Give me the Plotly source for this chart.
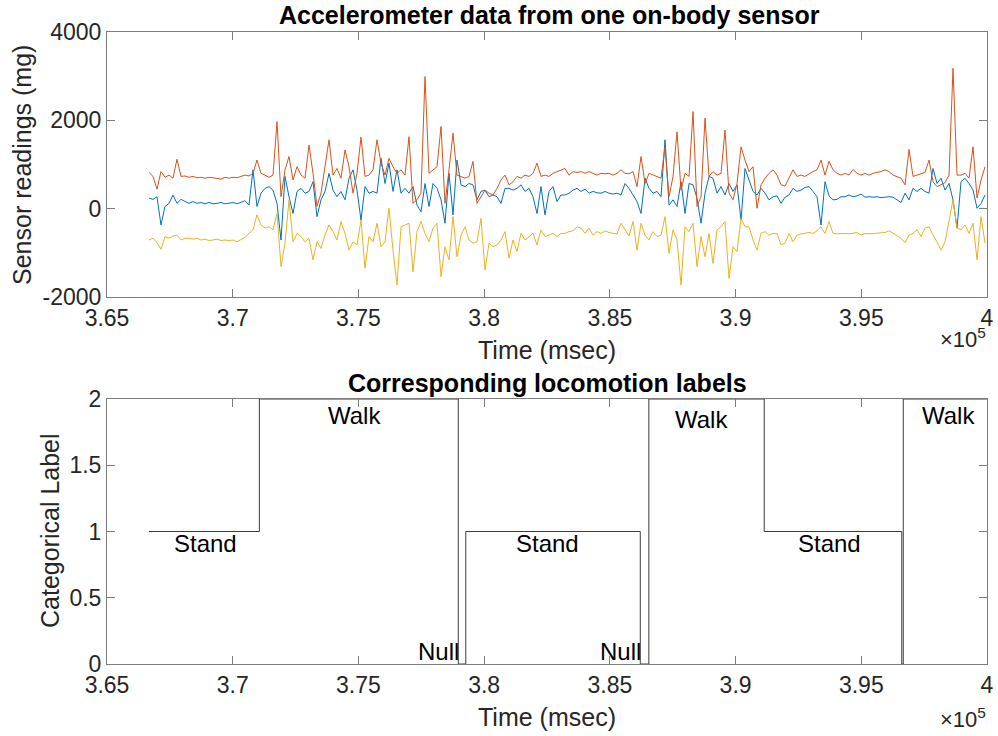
import plotly.graph_objects as go

# ---------------- data ----------------
t_start_ms = 366670      # first sample (ms)
sample_ms = 159.1        # sampling period of the readings below (ms)

acc_blue = [240,210,270,-370,50,120,310,120,210,160,120,160,120,140,110,140,110,120,140,110,120,140,110,140,180,80,880,50,350,460,500,420,120,-710,
            730,270,-110,390,460,350,390,610,-180,200,390,800,420,270,390,200,690,880,420,-260,500,350,390,350,1140,570,1030,390,880,350,460,350,500,80,-70,
            570,50,570,460,200,-330,800,-140,1100,540,500,570,540,200,390,420,270,310,270,120,460,460,420,460,540,390,460,270,-110,500,-140,390,500,160,310,
            310,350,420,460,390,440,350,390,360,350,390,350,330,350,310,570,460,310,160,-110,690,460,350,390,270,1560,80,200,50,610,-110,570,540,240,-330,
            350,730,690,350,500,310,570,390,540,-260,910,650,390,310,460,350,200,270,290,120,260,310,460,390,420,480,500,390,270,-370,610,290,200,210,270,
            270,310,270,290,330,260,270,260,270,250,260,270,260,200,140,350,200,460,390,460,390,350,910,570,690,420,570,200,-440,610,690,570,420,10,120,310]

acc_orange = [820,730,440,840,710,760,690,1120,730,740,710,730,700,710,690,710,700,690,670,710,690,710,700,730,760,740,800,1100,800,760,710,760,1970,270,
              880,1180,650,950,760,690,1440,800,50,350,950,1560,760,910,690,1330,950,350,800,1620,730,760,880,1560,1030,760,1140,950,800,880,760,1630,120,200,350,
              2990,800,880,950,1860,120,880,1710,760,730,690,730,1070,120,270,420,350,310,460,650,760,540,610,730,690,760,730,800,1030,730,760,730,800,840,880,
              910,760,840,820,840,800,840,800,760,800,790,800,760,800,880,800,790,840,500,1180,570,800,760,730,690,1400,270,730,1740,420,800,730,2200,50,270,
              2050,730,840,760,800,1780,350,200,570,1400,1100,840,950,10,540,690,800,880,760,540,510,690,880,730,760,730,790,840,880,1100,760,1070,880,800,760,
              800,760,890,800,760,800,760,800,820,840,880,840,760,730,690,540,1340,730,760,800,820,1100,610,500,540,590,760,3180,760,760,800,690,1400,240,650,950]

acc_yellow = [-710,-670,-770,-920,-630,-670,-620,-600,-710,-670,-670,-690,-670,-710,-690,-720,-710,-690,-720,-710,-720,-710,-750,-690,-650,-560,-480,-140,-370,-440,-410,-480,-110,-1310,
              -780,200,-750,-560,-630,-750,-670,-1160,-750,-900,-600,-370,-520,-710,-290,-560,-940,-750,-820,-260,-1350,-630,-750,-330,-860,-750,10,-940,-1730,-410,-370,-330,-1430,-520,-290,
              -560,-750,-440,-330,-1540,-860,-1160,-180,-1090,-600,-410,-710,-780,-750,-220,-1390,-780,-860,-820,-710,-520,-1120,-710,-970,-560,-710,-630,-560,-820,-480,-630,-600,-560,-630,-560,
              -560,-520,-500,-410,-440,-560,-440,-600,-520,-560,-500,-540,-560,-570,-330,-480,-620,-290,-940,-330,-600,-710,-520,-630,-600,-180,-1010,-480,-710,-1730,-410,-520,-330,-1310,-630,
              -1090,-560,-1240,-480,-410,-290,-1580,-860,-970,-220,-410,-410,-710,-940,-560,-520,-600,-560,-560,-820,-780,-560,-750,-600,-570,-560,-540,-560,-500,-410,-560,-290,-560,-570,-560,
              -560,-570,-560,-540,-600,-560,-570,-560,-560,-540,-540,-500,-560,-620,-670,-770,-600,-560,-480,-630,-440,-410,-600,-750,-940,-750,-260,200,-440,-480,-370,-560,-330,-1160,-180,-780]

# locomotion labels: 0 = Null, 1 = Stand, 2 = Walk (value holds from each time onward)
label_times = [366670, 371060, 378970, 379270, 386210, 386550, 391140, 396610, 396670, 400000]
label_codes = [1, 2, 0, 1, 0, 2, 1, 0, 2, 2]

# text annotations of the label plot
label_names = ["Stand", "Walk", "Null", "Stand", "Null", "Walk", "Stand", "Walk"]
label_text_x = [368930, 374830, 378200, 382520, 385430, 388650, 393720, 398480]
label_text_y = [0.906, 1.874, 0.093, 0.913, 0.093, 1.849, 0.913, 1.879]

x_tick_vals = [365000, 370000, 375000, 380000, 385000, 390000, 395000, 400000]
x_tick_text = ["3.65", "3.7", "3.75", "3.8", "3.85", "3.9", "3.95", "4"]
y1_tick_vals = [-2000, 0, 2000, 4000]
y1_tick_text = ["-2000", "0", "2000", "4000"]
y2_tick_vals = [0, 0.5, 1, 1.5, 2]
y2_tick_text = ["0", "0.5", "1", "1.5", "2"]

# ---------------- figure ----------------
W, H = 998, 736
FONT = "Liberation Sans, Arial, Helvetica, sans-serif"
TXT = "#262626"
AX = "rgb(125,125,125)"

times = [t_start_ms + i * sample_ms for i in range(len(acc_blue))]

fig = go.Figure()
for vals, col in [(acc_blue, "#0072BD"), (acc_orange, "#D95319"), (acc_yellow, "#EDB120")]:
    fig.add_trace(go.Scatter(x=times[:len(vals)], y=vals, mode="lines",
                             line=dict(color=col, width=1), xaxis="x", yaxis="y",
                             showlegend=False, hoverinfo="skip"))

fig.add_trace(go.Scatter(x=label_times, y=label_codes, mode="lines",
                         line=dict(color="rgb(60,60,60)", width=1, shape="hv"),
                         xaxis="x2", yaxis="y2", showlegend=False, hoverinfo="skip"))

xdom = [107 / W, 987 / W]
y1dom = [1 - 297 / H, 1 - 32 / H]
y2dom = [1 - 664 / H, 1 - 399 / H]

axis_common = dict(showline=True, linecolor=AX, linewidth=1, mirror="ticks",
                   ticks="inside", ticklen=8, tickcolor=AX, tickwidth=1,
                   showgrid=False, zeroline=False, automargin=False,
                   tickfont=dict(family=FONT, size=23, color=TXT))

fig.update_layout(
    width=W, height=H,
    margin=dict(l=0, r=0, t=0, b=0, pad=0, autoexpand=False),
    paper_bgcolor="white", plot_bgcolor="white",
    xaxis=dict(domain=xdom, range=[365000, 400000], anchor="y",
               tickvals=x_tick_vals, ticktext=x_tick_text, **axis_common),
    yaxis=dict(domain=y1dom, range=[-2000, 4000], anchor="x",
               tickvals=y1_tick_vals, ticktext=y1_tick_text, **axis_common),
    xaxis2=dict(domain=xdom, range=[365000, 400000], anchor="y2",
                tickvals=x_tick_vals, ticktext=x_tick_text, **axis_common),
    yaxis2=dict(domain=y2dom, range=[0, 2], anchor="x2",
                tickvals=y2_tick_vals, ticktext=y2_tick_text, **axis_common),
)

ann = []
def paper_text(text, px, py, size, bold=False, angle=0, xanchor="center"):
    ann.append(dict(text=("<b>%s</b>" % text) if bold else text,
                    x=px / W, y=1 - py / H, xref="paper", yref="paper",
                    xanchor=xanchor, yanchor="middle", showarrow=False,
                    textangle=angle, font=dict(family=FONT, size=size, color="black" if bold else TXT)))

paper_text("Accelerometer data from one on-body sensor", 549, 15, 25, bold=True)
paper_text("Corresponding locomotion labels", 547, 383, 25, bold=True)
paper_text("Time (msec)", 547, 350, 25)
paper_text("Time (msec)", 547, 717, 25)
paper_text("Sensor readings (mg)", 22, 165, 25, angle=-90)
paper_text("Categorical Label", 50, 531, 25, angle=-90)
paper_text("×10<sup>5</sup>", 988, 338, 22, xanchor="right")
paper_text("×10<sup>5</sup>", 988, 718, 22, xanchor="right")

for name, lx, ly in zip(label_names, label_text_x, label_text_y):
    ann.append(dict(text=name, x=lx, y=ly, xref="x2", yref="y2",
                    xanchor="center", yanchor="middle", showarrow=False,
                    font=dict(family=FONT, size=24, color="black")))

fig.update_layout(annotations=ann)
fig.write_html("out.html")
